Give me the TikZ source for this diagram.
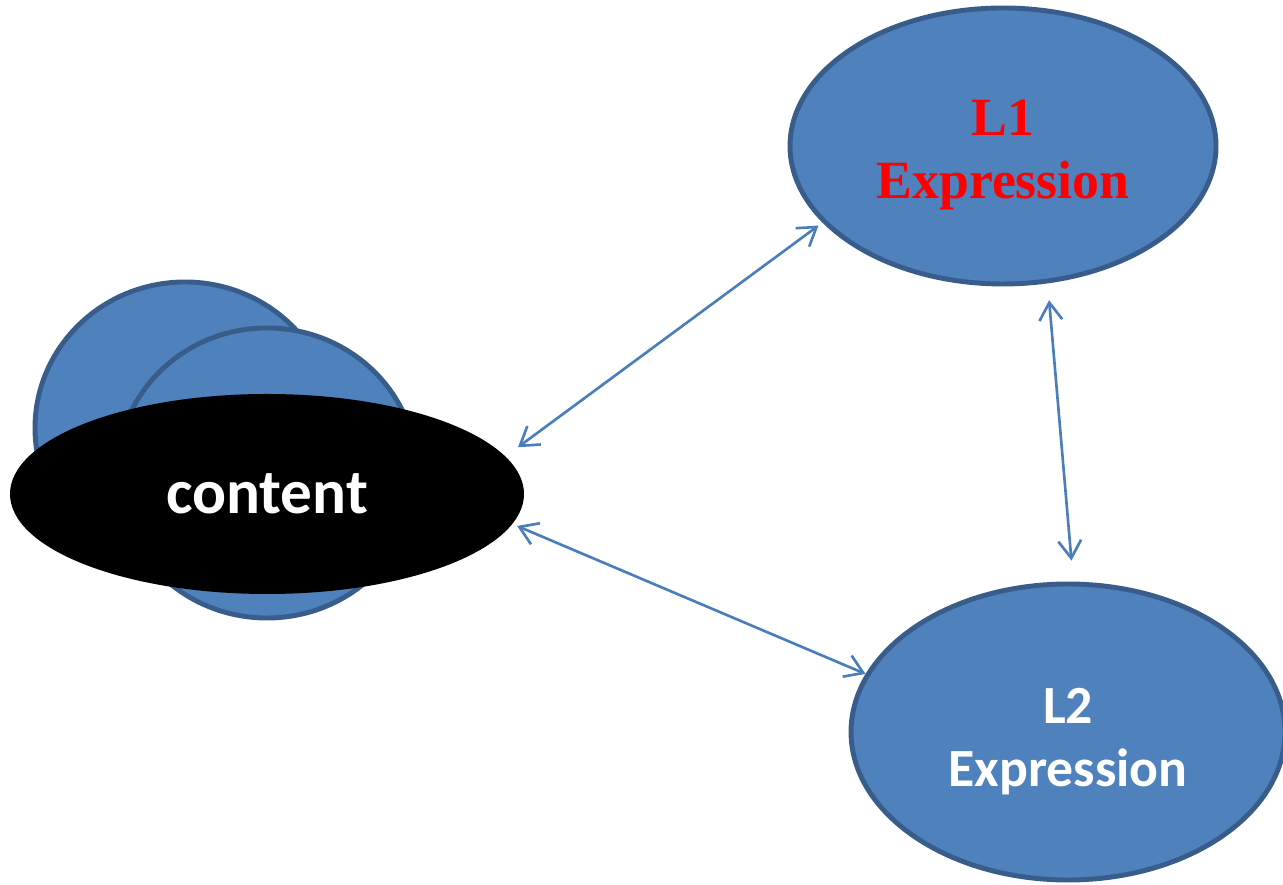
\documentclass[tikz,border=0pt]{standalone}
\usepackage{fontspec}
\setmainfont{Carlito}
\newfontfamily\serifbold{Liberation Serif}
\usetikzlibrary{shapes.geometric, arrows.meta}
\definecolor{blobfill}{RGB}{79,129,189}
\definecolor{blobline}{RGB}{56,93,138}
\definecolor{linkcolor}{RGB}{74,126,187}

\tikzset{
    blob/.style={ellipse, fill=blobfill, draw=blobline, line width=1.4pt, inner sep=0pt},
    link/.style={{Straight Barb[length=5pt,width=6.5pt]}-{Straight Barb[length=5pt,width=6.5pt]}, draw=linkcolor, line width=0.75pt}
}

\begin{document}
\begin{tikzpicture}
    \useasboundingbox (0,0) rectangle (12.83,8.84);

    % Stack of bubbles behind the content
    \node[blob, minimum width=3.0cm, minimum height=2.92cm] (blobA) at (1.85,4.56) {};
    \node[blob, minimum width=3.0cm, minimum height=2.90cm] (blobB) at (2.67,4.11) {};
    \node[ellipse, fill=black, inner sep=0pt, minimum width=5.14cm, minimum height=2.0cm,
          text=white, font=\fontsize{18}{22}\selectfont\bfseries] (content) at (2.67,3.90) {content};

    % The two expressions (the strut pushes the text a little below centre)
    \node[blob, minimum width=4.26cm, minimum height=2.76cm, align=center, text=red,
          font=\fontsize{15.3}{18}\selectfont\serifbold\bfseries] (L1) at (10.03,7.38)
          {\rule{0pt}{15.2pt}L1\\Expression};
    \node[blob, minimum width=4.34cm, minimum height=2.96cm, align=center, text=white,
          font=\fontsize{15.3}{18}\selectfont\bfseries] (L2) at (10.68,1.52)
          {\rule{0pt}{15.7pt}L2\\Expression};

    % Links between them
    \draw[link, shorten <=4.3pt, shorten >=1.4pt] (content.9) -- (L1.203);
    \draw[link, shorten <=1.3pt] (content.-7) -- (L2.164);
    \draw[link, shorten <=4.8pt, shorten >=6pt] (L1.-72) -- (L2.88);
\end{tikzpicture}
\end{document}
